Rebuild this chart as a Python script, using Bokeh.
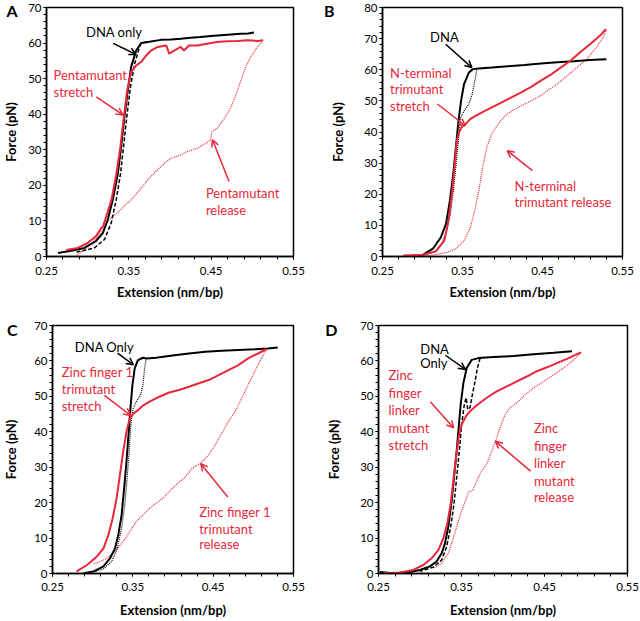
from bokeh.plotting import figure
from bokeh.layouts import column, row
from bokeh.models import Range1d, FixedTicker, Label, Arrow, OpenHead, LinearAxis
from bokeh.embed import file_html
from bokeh.resources import INLINE

RED = "#e8283a"
FONT = "Lato"

# ---------------- axis ticks ----------------
x_major = [0.25, 0.35, 0.45, 0.55]
x_minor = [0.25, 0.27, 0.29, 0.31, 0.33, 0.35, 0.37, 0.39, 0.41, 0.43, 0.45, 0.47, 0.49, 0.51, 0.53, 0.55]
y_major_70 = [0, 10, 20, 30, 40, 50, 60, 70]
y_minor_70 = list(range(0, 71, 2))
y_major_80 = [0, 10, 20, 30, 40, 50, 60, 70, 80]
y_minor_80 = list(range(0, 81, 2))

# ---------------- Panel A ----------------
a_dna_str_x = [0.264, 0.280, 0.296, 0.310, 0.3185, 0.3245, 0.3306, 0.3367, 0.3407, 0.3447, 0.3488, 0.3528, 0.3589, 0.365, 0.373, 0.389, 0.401, 0.413, 0.425, 0.437, 0.450, 0.462, 0.474, 0.486, 0.495, 0.502]
a_dna_str_y = [1.0, 1.6, 2.4, 4.3, 6.6, 10.4, 16.0, 23.4, 30.9, 39.3, 46.7, 53.3, 57.9, 60.0, 60.3, 60.9, 61.0, 61.2, 61.5, 61.7, 62.0, 62.2, 62.4, 62.6, 62.7, 63.0]
a_dna_rel_x = [0.372, 0.3650, 0.363, 0.360, 0.357, 0.352, 0.348, 0.344, 0.340, 0.3347, 0.3286, 0.3205, 0.308, 0.292, 0.284]
a_dna_rel_y = [60.3, 60.0, 58.9, 56.5, 54.2, 47.7, 40.2, 31.8, 23.4, 16.0, 9.4, 4.8, 2.4, 1.5, 1.2]
a_mut_str_x = [0.274, 0.288, 0.300, 0.310, 0.3165, 0.319, 0.3226, 0.329, 0.335, 0.3398, 0.344, 0.348, 0.3528, 0.359, 0.365, 0.371, 0.377, 0.385, 0.3955, 0.399, 0.405, 0.413, 0.417, 0.423, 0.433, 0.445, 0.457, 0.4697, 0.482, 0.494, 0.506, 0.513]
a_mut_str_y = [1.8, 2.4, 3.8, 5.7, 8.0, 8.6, 11.3, 16.0, 23.4, 30.9, 39.3, 46.7, 51.9, 53.7, 54.7, 56.5, 57.9, 58.9, 59.3, 57.0, 57.9, 58.9, 57.9, 59.3, 59.3, 59.8, 60.3, 60.5, 60.6, 60.8, 60.6, 60.8]
a_mut_rel_x = [0.513, 0.506, 0.498, 0.492, 0.486, 0.482, 0.476, 0.472, 0.466, 0.457, 0.451, 0.449, 0.443, 0.433, 0.421, 0.413, 0.401, 0.393, 0.385, 0.373, 0.365, 0.353, 0.344, 0.336, 0.3306, 0.3245, 0.318, 0.3125, 0.304, 0.294, 0.286]
a_mut_rel_y = [60.8, 58.9, 56.1, 53.3, 49.5, 46.7, 43.0, 41.1, 38.8, 36.0, 35.1, 32.7, 31.8, 30.4, 29.5, 28.5, 27.6, 26.2, 24.4, 21.6, 19.2, 16.0, 14.1, 12.2, 11.3, 9.9, 7.6, 5.7, 3.4, 1.5, 0.3]

# ---------------- Panel B ----------------
b_dna_str_x = [0.290, 0.3007, 0.313, 0.323, 0.3294, 0.3343, 0.3384, 0.3417, 0.345, 0.3482, 0.3519, 0.358, 0.363, 0.370, 0.3867, 0.407, 0.4276, 0.448, 0.4685, 0.489, 0.509, 0.530]
b_dna_str_y = [0.3, 0.6, 2.5, 6.2, 10.5, 18.0, 26.5, 35.0, 43.6, 50.0, 55.4, 59.1, 60.2, 60.4, 60.7, 61.1, 61.5, 62.0, 62.4, 62.7, 63.1, 63.4]
b_dna_rel_x = [0.368, 0.3662, 0.3621, 0.358, 0.352, 0.3478, 0.345, 0.342, 0.339, 0.335, 0.330, 0.324, 0.315, 0.302]
b_dna_rel_y = [60.4, 57.5, 52.2, 49.0, 46.8, 44.7, 37.2, 30.0, 22.0, 14.0, 8.0, 4.0, 1.5, 0.4]
b_mut_str_x = [0.276, 0.3007, 0.317, 0.3273, 0.3326, 0.3367, 0.340, 0.3429, 0.3457, 0.349, 0.354, 0.360, 0.3662, 0.3744, 0.3867, 0.399, 0.4112, 0.4235, 0.4358, 0.448, 0.4603, 0.4726, 0.4849, 0.4971, 0.5094, 0.5217, 0.529]
b_mut_str_y = [0.3, 0.6, 1.7, 5.1, 11.6, 20.1, 28.7, 37.2, 39.9, 41.5, 42.6, 44.2, 45.2, 46.3, 47.9, 49.5, 51.1, 52.7, 54.5, 56.5, 58.4, 60.7, 62.9, 65.6, 68.2, 70.9, 73.0]
b_mut_rel_x = [0.5299, 0.5258, 0.5176, 0.5053, 0.493, 0.4808, 0.4685, 0.4562, 0.444, 0.4317, 0.4194, 0.4092, 0.403, 0.3948, 0.3867, 0.3805, 0.3752, 0.3711, 0.3662, 0.360, 0.352, 0.3417, 0.3294, 0.313, 0.2967]
b_mut_rel_y = [73.0, 70.4, 67.2, 63.4, 60.7, 58.1, 55.4, 53.3, 51.1, 49.5, 47.9, 46.3, 45.2, 42.6, 39.4, 35.1, 28.7, 22.2, 15.8, 9.4, 5.1, 2.5, 1.2, 0.5, 0.3]

# ---------------- Panel C ----------------
c_dna_str_x = [0.2889, 0.3012, 0.3134, 0.3216, 0.3278, 0.3319, 0.336, 0.3392, 0.3421, 0.3446, 0.347, 0.3495, 0.3523, 0.3564, 0.3626, 0.3667, 0.3789, 0.3994, 0.4199, 0.4403, 0.4608, 0.4813, 0.5017, 0.518, 0.5304]
c_dna_str_y = [0.1, 0.6, 2.0, 4.3, 7.1, 10.9, 16.5, 24.1, 31.6, 39.1, 46.6, 53.2, 57.9, 60.2, 60.9, 60.7, 60.9, 61.5, 62.1, 62.6, 62.9, 63.1, 63.3, 63.5, 63.8]
c_dna_rel_x = [0.3667, 0.3646, 0.3626, 0.3597, 0.3544, 0.3503, 0.3474, 0.3454, 0.3429, 0.340, 0.336, 0.3306, 0.3237, 0.3134, 0.3012]
c_dna_rel_y = [60.7, 57.9, 53.2, 50.4, 48.5, 46.6, 41.9, 34.4, 26.9, 19.4, 12.8, 7.1, 3.4, 1.3, 0.4]
c_mut_str_x = [0.2799, 0.293, 0.3053, 0.3134, 0.3196, 0.3249, 0.3298, 0.3339, 0.338, 0.3421, 0.3462, 0.3511, 0.3564, 0.3626, 0.3708, 0.383, 0.3953, 0.4076, 0.4199, 0.4322, 0.4444, 0.4567, 0.469, 0.4813, 0.4935, 0.5058, 0.5161]
c_mut_str_y = [0.6, 2.4, 4.8, 7.1, 10.9, 15.6, 21.2, 27.8, 34.4, 40.0, 43.8, 45.2, 46.1, 47.4, 48.5, 49.9, 51.1, 51.8, 52.7, 53.7, 54.6, 56.0, 57.4, 58.8, 60.7, 62.1, 63.3]
c_mut_rel_x = [0.5161, 0.5099, 0.5017, 0.4935, 0.4854, 0.4772, 0.469, 0.4608, 0.4526, 0.4444, 0.4342, 0.424, 0.4137, 0.4035, 0.3953, 0.3871, 0.3789, 0.3708, 0.3626, 0.3544, 0.3462, 0.338, 0.3278, 0.3175, 0.3094, 0.300]
c_mut_rel_y = [63.3, 60.7, 57.0, 53.2, 49.4, 45.7, 42.9, 39.6, 36.3, 33.5, 31.1, 29.7, 26.9, 25.0, 23.1, 21.2, 19.8, 18.4, 16.5, 14.7, 11.8, 9.0, 6.2, 4.3, 3.4, 2.6]

# ---------------- Panel D ----------------
d_dna_str_x = [0.2516, 0.2677, 0.2838, 0.2999, 0.312, 0.32, 0.3261, 0.3301, 0.3341, 0.3382, 0.3414, 0.3442, 0.3466, 0.349, 0.3523, 0.3563, 0.3623, 0.3704, 0.3885, 0.4126, 0.4368, 0.461, 0.4831]
d_dna_str_y = [0.4, 0.1, 0.3, 1.0, 2.0, 3.4, 5.7, 8.5, 13.2, 20.6, 28.1, 34.6, 41.2, 47.7, 53.8, 58.0, 60.3, 60.8, 61.1, 61.4, 61.9, 62.3, 62.7]
d_dna_rel_x = [0.3724, 0.3692, 0.3663, 0.3631, 0.3603, 0.3575, 0.3555, 0.3531, 0.3502, 0.3474, 0.3442, 0.341, 0.337, 0.3321, 0.3261, 0.316, 0.2999]
d_dna_rel_y = [60.8, 58.0, 54.2, 50.5, 46.8, 46.3, 49.6, 47.2, 42.1, 34.6, 27.2, 19.7, 13.2, 7.6, 3.8, 1.8, 0.6]
d_mut_str_x = [0.2556, 0.2758, 0.2919, 0.3039, 0.314, 0.3221, 0.3281, 0.3329, 0.337, 0.3402, 0.3434, 0.3466, 0.3502, 0.3555, 0.3603, 0.3684, 0.3804, 0.3925, 0.4046, 0.4167, 0.4287, 0.4408, 0.4529, 0.465, 0.4771, 0.4871, 0.494]
d_mut_str_y = [0.1, 0.3, 1.0, 2.4, 4.3, 6.6, 9.9, 14.1, 19.7, 26.2, 32.8, 38.4, 42.1, 44.4, 45.8, 47.5, 49.6, 51.4, 52.8, 54.2, 55.6, 57.1, 58.2, 59.4, 60.6, 61.7, 62.4]
d_mut_rel_x = [0.494, 0.4851, 0.473, 0.461, 0.4489, 0.4368, 0.4267, 0.4167, 0.4086, 0.4026, 0.3965, 0.3925, 0.3865, 0.3804, 0.3744, 0.3684, 0.3635, 0.3583, 0.3543, 0.349, 0.3442, 0.3394, 0.3341, 0.3261, 0.316]
d_mut_rel_y = [62.4, 60.3, 58.0, 56.1, 54.2, 52.4, 50.5, 48.2, 46.8, 44.9, 41.2, 38.4, 34.6, 30.9, 29.0, 26.2, 23.4, 23.0, 20.2, 16.9, 13.2, 9.4, 5.7, 2.9, 1.5]


def make_panel(width, height, ymax, y_major, y_minor, bl, br, bt, bb,
               x_std, x_lab_std, y_lab_std, letter, letter_y, letter_std):
    p = figure(width=width, height=height, x_range=Range1d(0.25, 0.55), y_range=Range1d(0, ymax),
               output_backend="svg", toolbar_location=None,
               min_border_left=bl, min_border_right=br, min_border_top=bt, min_border_bottom=bb,
               background_fill_color="white", border_fill_color="white")
    p.xgrid.visible = False
    p.ygrid.visible = False
    p.outline_line_color = "black"
    p.outline_line_width = 1.5
    p.outline_line_alpha = 1.0
    p.xaxis.ticker = FixedTicker(ticks=x_major, minor_ticks=x_minor)
    p.yaxis.ticker = FixedTicker(ticks=y_major, minor_ticks=y_minor)
    for ax in (p.xaxis[0], p.yaxis[0]):
        ax.axis_line_color = "black"
        ax.axis_line_width = 1.5
        ax.major_tick_in = 0
        ax.major_tick_out = 3
        ax.minor_tick_in = 0
        ax.minor_tick_out = 3
        ax.major_tick_line_color = "black"
        ax.minor_tick_line_color = "black"
        ax.major_tick_line_width = 1
        ax.minor_tick_line_width = 1
        ax.major_label_text_font = FONT
        ax.major_label_text_font_size = "11.5px"
        ax.major_label_text_color = "black"
        ax.axis_label_text_font = FONT
        ax.axis_label_text_font_size = "13px"
        ax.axis_label_text_font_style = "bold"
        ax.axis_label_text_color = "black"
    p.xaxis.axis_label = "Extension (nm/bp)"
    p.yaxis.axis_label = "Force (pN)"
    p.xaxis.major_label_standoff = x_std
    p.xaxis.axis_label_standoff = x_lab_std
    p.yaxis.major_label_standoff = 2
    p.yaxis.axis_label_standoff = y_lab_std
    # panel letter, drawn as the single tick label of an outer, line-less axis
    lax = LinearAxis(ticker=FixedTicker(ticks=[letter_y], minor_ticks=[]),
                     major_label_overrides={letter_y: letter},
                     axis_line_color=None, major_tick_line_color=None, minor_tick_line_color=None,
                     major_tick_out=0, major_tick_in=0, minor_tick_out=0, minor_tick_in=0,
                     major_label_standoff=letter_std,
                     major_label_text_font=FONT, major_label_text_font_size="16px",
                     major_label_text_font_style="bold", major_label_text_color="black")
    p.add_layout(lax, "left")
    return p


def curves(p, dna_str, dna_rel, mut_str, mut_rel, dna_rel_dash, dna_rel_w):
    p.line(mut_rel[0], mut_rel[1], line_color=RED, line_width=1.2, line_dash="1 1")
    p.line(dna_rel[0], dna_rel[1], line_color="black", line_width=dna_rel_w, line_dash=dna_rel_dash)
    p.line(dna_str[0], dna_str[1], line_color="black", line_width=2)
    p.line(mut_str[0], mut_str[1], line_color=RED, line_width=2)


def texts(p, lines, x, ys, color, size="13px"):
    for t, y in zip(lines, ys):
        p.add_layout(Label(x=x, y=y, text=t, text_font=FONT, text_font_size=size,
                           text_color=color, text_align="left", text_baseline="middle"))


def arrow(p, x0, y0, x1, y1, color):
    p.add_layout(Arrow(end=OpenHead(size=7, line_color=color, line_width=1.5),
                       x_start=x0, y_start=y0, x_end=x1, y_end=y1,
                       line_color=color, line_width=1.5))


# Panel A
pa = make_panel(320, 310, 70, y_major_70, y_minor_70, 45, 27, 7, 53, 7, 6, 6, "A", 69.4, -17)
curves(pa, (a_dna_str_x, a_dna_str_y), (a_dna_rel_x, a_dna_rel_y),
       (a_mut_str_x, a_mut_str_y), (a_mut_rel_x, a_mut_rel_y), "4 2", 1.5)
texts(pa, ["DNA only"], 0.298, [63.2], "black")
arrow(pa, 0.331, 59.9, 0.3589, 56.8, "black")
texts(pa, ["Pentamutant", "stretch"], 0.2585, [51.0, 46.2], RED)
arrow(pa, 0.3105, 44.9, 0.3428, 39.8, RED)
texts(pa, ["Pentamutant", "release"], 0.4436, [17.9, 13.2], RED)
arrow(pa, 0.4717, 21.1, 0.4516, 32.8, RED)

# Panel B
pb = make_panel(320, 310, 80, y_major_80, y_minor_80, 57, 18, 7, 54, 7, 6, 15, "B", 79.0, -7)
curves(pb, (b_dna_str_x, b_dna_str_y), (b_dna_rel_x, b_dna_rel_y),
       (b_mut_str_x, b_mut_str_y), (b_mut_rel_x, b_mut_rel_y), "1 1", 1.2)
texts(pb, ["DNA"], 0.3095, [70.6], "black")
arrow(pb, 0.329, 68.2, 0.3617, 60.7, "black")
texts(pb, ["N-terminal", "trimutant", "stretch"], 0.2594, [59.1, 53.8, 48.4], RED)
arrow(pb, 0.3187, 49.0, 0.3536, 42.0, RED)
texts(pb, ["N-terminal", "trimutant release"], 0.415, [22.8, 17.4], RED)
arrow(pb, 0.4374, 27.6, 0.4059, 34.0, RED)

# Panel C
pc = make_panel(320, 311, 70, y_major_70, y_minor_70, 49, 27, 15, 48, 6, 8, 12, "C", 68.9, -17)
curves(pc, (c_dna_str_x, c_dna_str_y), (c_dna_rel_x, c_dna_rel_y),
       (c_mut_str_x, c_mut_str_y), (c_mut_rel_x, c_mut_rel_y), "1 1", 1.2)
texts(pc, ["DNA Only"], 0.2778, [63.9], "black")
arrow(pc, 0.331, 62.2, 0.3507, 58.9, "black")
texts(pc, ["Zinc finger 1", "trimutant", "stretch"], 0.2615, [56.8, 52.1, 47.4], RED)
arrow(pc, 0.3147, 50.3, 0.3474, 44.6, RED)
texts(pc, ["Zinc finger 1", "trimutant", "release"], 0.4326, [17.4, 12.7, 8.3], RED)
arrow(pc, 0.4682, 21.6, 0.4346, 31.0, RED)

# Panel D
pd = make_panel(320, 311, 70, y_major_70, y_minor_70, 58, 13, 15, 46, 6, 8, 15, "D", 68.9, -14)
curves(pd, (d_dna_str_x, d_dna_str_y), (d_dna_rel_x, d_dna_rel_y),
       (d_mut_str_x, d_mut_str_y), (d_mut_rel_x, d_mut_rel_y), "4 2", 1.5)
texts(pd, ["DNA", "Only"], 0.3003, [63.5, 59.3], "black")
arrow(pd, 0.3306, 61.6, 0.3547, 57.6, "black")
texts(pd, ["Zinc", "finger", "linker", "mutant", "stretch"], 0.2621, [56.0, 50.9, 46.2, 41.1, 36.4], RED)
arrow(pd, 0.3124, 48.5, 0.3406, 41.1, RED)
texts(pd, ["Zinc", "finger", "linker", "mutant", "release"], 0.4372, [41.1, 35.9, 31.3, 26.1, 21.5], RED)
arrow(pd, 0.4332, 28.9, 0.3909, 37.3, RED)

layout = column(row(pa, pb), row(pc, pd))
open("out.html", "w").write(file_html(layout, INLINE))
